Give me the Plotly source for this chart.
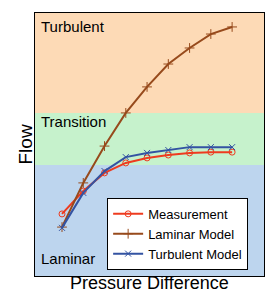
import plotly.graph_objects as go

x_vals = [1, 2, 3, 4, 5, 6, 7, 8, 9]
measurement = [23.6, 32.3, 39.2, 43.0, 44.9, 46.0, 46.8, 47.1, 47.1]
laminar_model = [18.6, 35.4, 49.4, 62.0, 71.9, 80.6, 86.7, 92.0, 94.7]
turbulent_model = [18.3, 31.6, 39.9, 45.2, 46.8, 47.9, 49.0, 49.0, 49.0]

regions = ["Laminar", "Transition", "Turbulent"]
region_bounds = [0, 42.2, 62.0, 100]
region_colors = ["#BDD5EE", "#C6F2CC", "#FDDAB6"]
region_label_y = [6.8, 58.9, 95.0]

FONT = "Liberation Sans, Arial, Helvetica, sans-serif"

fig = go.Figure()

for i, name in enumerate(regions):
    fig.add_shape(type="rect", xref="paper", yref="y", x0=0, x1=1,
                  y0=region_bounds[i], y1=region_bounds[i + 1],
                  fillcolor=region_colors[i], line_width=0, layer="below")
    fig.add_annotation(x=0, xref="paper", xshift=4, y=region_label_y[i], yref="y",
                       text=name, showarrow=False, xanchor="left", yanchor="middle",
                       font=dict(family=FONT, size=15, color="black"))

fig.add_trace(go.Scatter(x=x_vals, y=measurement, name="Measurement",
                         mode="lines+markers",
                         line=dict(color="#EE3B1F", width=2),
                         marker=dict(symbol="circle-open", size=6, color="#EE3B1F")))
fig.add_trace(go.Scatter(x=x_vals, y=laminar_model, name="Laminar Model",
                         mode="lines+markers",
                         line=dict(color="#974A1C", width=2),
                         marker=dict(symbol="cross-thin", size=7, color="#974A1C",
                                     line=dict(color="#974A1C", width=1))))
fig.add_trace(go.Scatter(x=x_vals, y=turbulent_model, name="Turbulent Model",
                         mode="lines+markers",
                         line=dict(color="#3353A2", width=2),
                         marker=dict(symbol="x-thin", size=6, color="#3353A2",
                                     line=dict(color="#3353A2", width=1))))

fig.add_annotation(x=0.5, xref="paper", y=0, yref="paper", yshift=-7,
                   text="Pressure Difference", showarrow=False,
                   xanchor="center", yanchor="middle", borderpad=0,
                   font=dict(family=FONT, size=18, color="black"))
fig.add_annotation(x=0, xref="paper", xshift=-10, y=0.5, yref="paper",
                   text="Flow", showarrow=False, textangle=-90,
                   xanchor="center", yanchor="middle",
                   font=dict(family=FONT, size=19, color="black"))

fig.update_xaxes(range=[-0.27, 10.5], showticklabels=False, ticks="",
                 showgrid=False, zeroline=False, showline=True, mirror=True,
                 linecolor="black", linewidth=1)
fig.update_yaxes(range=[0, 100], showticklabels=False, ticks="",
                 showgrid=False, zeroline=False, showline=True, mirror=True,
                 linecolor="black", linewidth=1)

fig.update_layout(
    width=266, height=294,
    margin=dict(l=35, r=2, t=13, b=18),
    paper_bgcolor="white", plot_bgcolor="white",
    showlegend=True,
    legend=dict(x=0.315, y=0.297, xanchor="left", yanchor="top",
                bgcolor="white", bordercolor="black", borderwidth=1,
                font=dict(family=FONT, size=13, color="black"),
                itemwidth=30, tracegroupgap=0),
    font=dict(family=FONT),
)

fig.write_html("out.html", config={"displayModeBar": False},
               post_script="document.body.style.margin='0';")
